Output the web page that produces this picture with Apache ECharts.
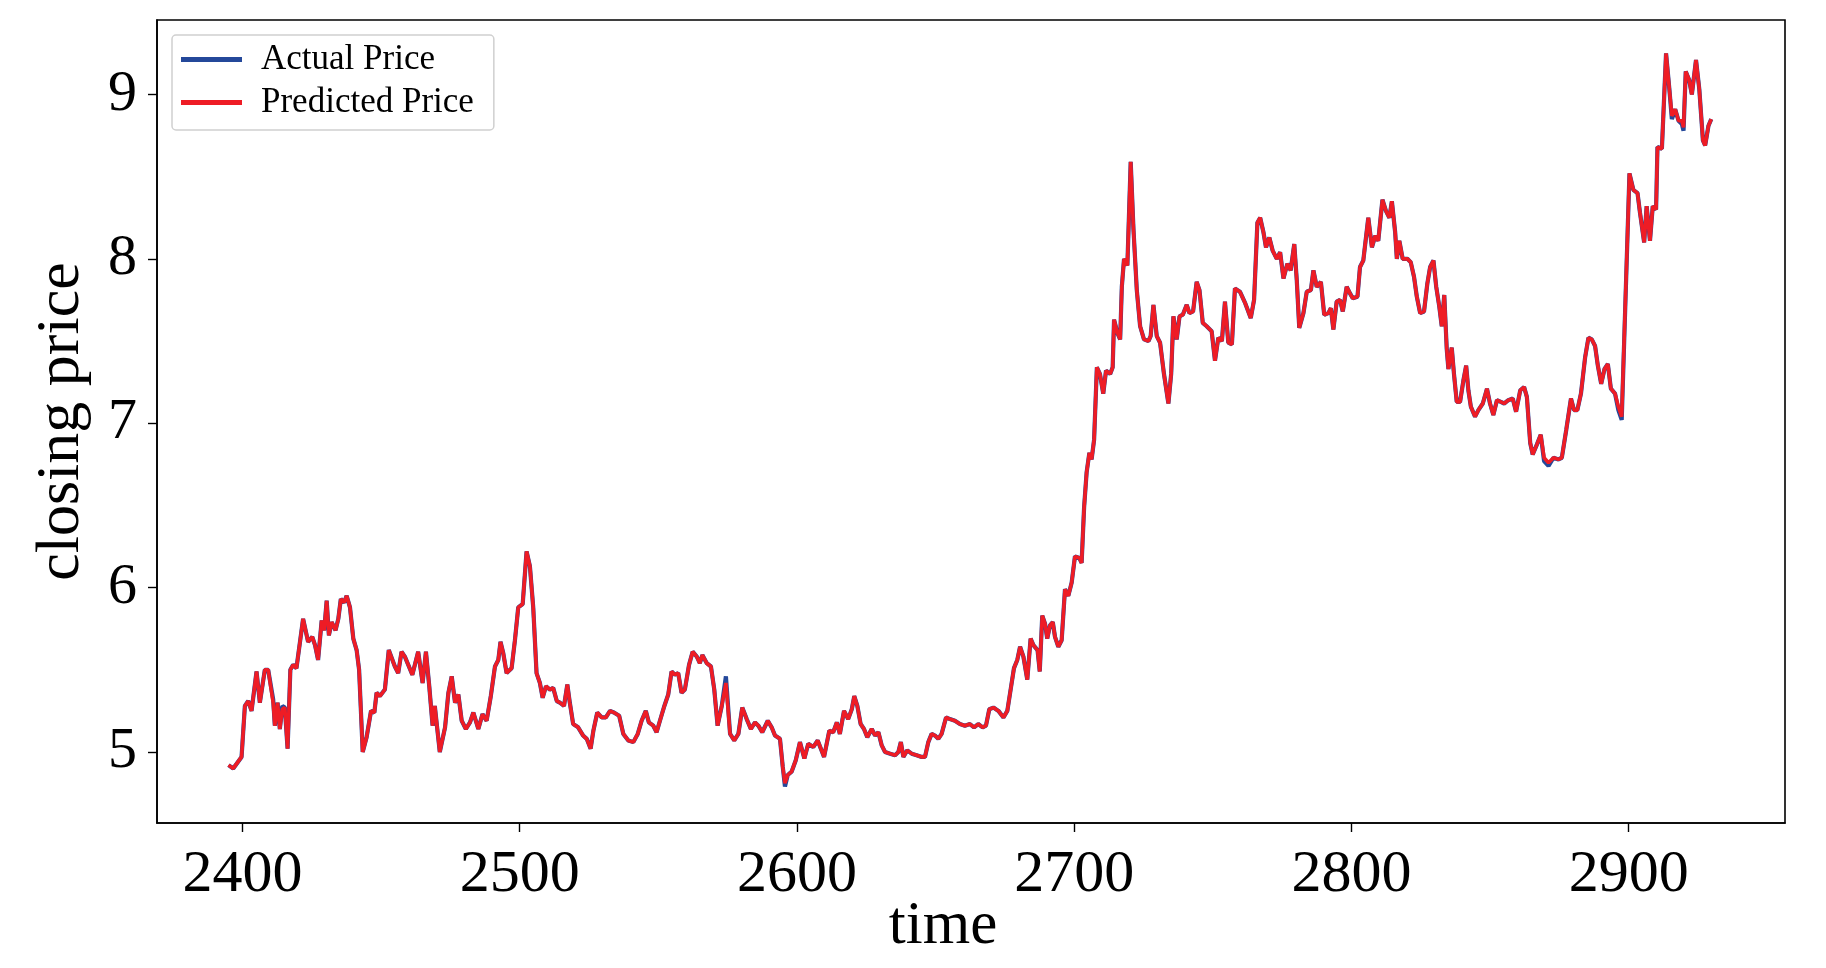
<!DOCTYPE html>
<html><head><meta charset="utf-8">
<script src="https://cdn.jsdelivr.net/npm/echarts@6/dist/echarts.min.js"></script>
<style>html,body{margin:0;padding:0;background:#fff}#c{width:1826px;height:968px}</style>
</head><body><div id="c"></div>
<script>
const time = [
2395.0,2396.7,2399.7,2400.9,2402.1,2403.3,2405.1,2406.3,2408.1,2409.3,
2411.1,2411.7,2412.7,2413.5,2414.4,2415.3,2416.3,2417.3,2418.3,2419.5,
2421.9,2422.5,2423.7,2425.2,2426.2,2427.3,2428.6,2429.5,2430.4,2431.2,
2432.2,2433.6,2434.6,2435.5,2436.7,2437.6,2438.8,2440.0,2441.2,2442.1,
2443.4,2444.8,2446.4,2447.6,2448.4,2449.6,2451.4,2452.8,2455.0,2456.2,
2457.4,2458.6,2461.3,2463.4,2465.0,2466.2,2467.4,2468.6,2469.4,2471.2,
2473.1,2474.3,2475.5,2476.7,2477.9,2479.1,2480.6,2482.1,2483.3,2485.1,
2486.6,2488.1,2489.6,2491.1,2492.3,2493.1,2494.1,2495.3,2497.1,2498.3,
2499.5,2501.1,2502.5,2503.7,2504.9,2506.1,2507.3,2508.3,2509.5,2510.9,
2512.1,2513.4,2514.5,2516.0,2517.2,2518.1,2519.3,2521.1,2522.9,2524.2,
2525.6,2526.6,2528.0,2529.6,2531.1,2532.6,2534.0,2535.9,2537.4,2539.2,
2541.0,2542.6,2544.0,2545.5,2546.6,2548.2,2549.4,2550.6,2552.2,2553.6,
2554.8,2556.0,2557.2,2558.4,2559.6,2561.1,2562.4,2563.9,2565.0,2565.9,
2567.5,2569.0,2570.2,2571.4,2572.9,2574.4,2575.9,2577.4,2578.9,2580.3,
2581.9,2583.4,2584.9,2586.1,2587.5,2589.5,2590.9,2592.1,2593.9,2594.9,
2595.7,2596.7,2598.1,2599.6,2601.1,2602.7,2604.1,2605.9,2607.5,2609.8,
2611.7,2613.1,2614.4,2615.5,2617.0,2618.5,2619.8,2620.7,2621.8,2623.0,
2624.2,2625.4,2627.0,2628.2,2629.4,2630.6,2631.8,2633.6,2635.4,2636.6,
2637.5,2638.4,2639.8,2641.4,2643.2,2645.0,2646.2,2647.4,2648.6,2649.8,
2651.0,2652.2,2653.8,2655.2,2657.0,2658.8,2660.6,2662.4,2663.9,2665.4,
2667.0,2668.2,2669.4,2670.9,2672.7,2674.5,2675.9,2677.1,2678.3,2679.5,
2680.5,2681.7,2683.1,2684.3,2685.3,2686.8,2687.6,2688.5,2689.5,2690.3,
2691.3,2692.3,2693.1,2694.3,2695.5,2696.7,2697.9,2699.1,2700.3,2701.9,
2702.7,2703.6,2704.5,2705.5,2706.3,2707.2,2708.2,2709.3,2710.5,2711.5,
2713.0,2713.9,2714.4,2715.6,2716.6,2717.2,2718.0,2719.2,2720.4,2721.4,
2722.6,2723.8,2725.2,2726.8,2727.6,2728.6,2729.8,2731.0,2732.4,2734.0,
2735.0,2735.8,2737.0,2738.0,2739.2,2740.6,2741.6,2742.9,2744.2,2745.2,
2746.4,2747.8,2749.6,2750.8,2752.0,2753.3,2754.4,2755.6,2756.9,2758.0,
2759.8,2761.7,2763.7,2764.9,2766.1,2767.1,2768.3,2769.2,2770.4,2771.6,
2773.1,2774.3,2775.5,2776.9,2778.1,2779.4,2780.3,2781.2,2782.7,2783.9,
2785.4,2786.3,2787.5,2789.0,2790.2,2791.7,2792.6,2793.5,2794.7,2795.9,
2796.9,2798.3,2799.5,2800.5,2802.2,2803.1,2804.3,2806.1,2807.4,2808.6,
2809.7,2811.2,2812.5,2813.7,2814.6,2815.8,2816.4,2817.3,2818.5,2820.2,
2821.4,2822.6,2823.6,2824.8,2826.2,2827.4,2828.4,2829.6,2830.6,2831.7,
2832.6,2833.5,2834.4,2835.0,2836.2,2837.0,2838.0,2839.2,2840.4,2841.4,
2842.2,2843.1,2844.6,2845.8,2847.4,2848.9,2850.0,2851.2,2852.5,2853.9,
2855.1,2856.6,2858.2,2859.4,2860.9,2862.3,2863.3,2864.5,2865.4,2866.9,
2868.3,2869.5,2871.1,2872.9,2874.7,2875.9,2877.5,2879.2,2880.3,2881.5,
2882.8,2884.3,2885.5,2886.7,2887.9,2888.9,2890.1,2891.3,2892.5,2893.6,
2895.1,2896.3,2897.5,2900.3,2901.7,2903.2,2904.1,2905.6,2906.5,2907.7,
2908.7,2909.9,2910.4,2912.0,2913.5,2914.7,2915.6,2916.8,2918.0,2919.2,
2919.8,2920.6,2921.8,2922.8,2924.3,2925.5,2926.8,2927.6,2928.8,2929.8
];
const actual = [
4.92,4.90,4.97,5.28,5.31,5.25,5.49,5.30,5.50,5.50,
5.32,5.16,5.30,5.14,5.28,5.27,5.02,5.50,5.53,5.51,
5.81,5.82,5.67,5.70,5.65,5.56,5.80,5.74,5.92,5.71,
5.79,5.74,5.81,5.93,5.91,5.95,5.88,5.69,5.62,5.50,
5.00,5.09,5.25,5.24,5.36,5.34,5.38,5.62,5.52,5.48,
5.61,5.58,5.47,5.61,5.42,5.61,5.40,5.16,5.28,5.00,
5.15,5.36,5.46,5.30,5.35,5.19,5.14,5.18,5.24,5.14,
5.23,5.19,5.34,5.52,5.56,5.67,5.60,5.48,5.51,5.68,
5.88,5.90,6.22,6.13,5.88,5.48,5.42,5.33,5.40,5.38,
5.39,5.31,5.30,5.28,5.41,5.30,5.17,5.15,5.10,5.08,
5.02,5.13,5.24,5.21,5.21,5.25,5.24,5.22,5.11,5.07,
5.06,5.11,5.19,5.25,5.18,5.16,5.12,5.19,5.28,5.35,
5.49,5.47,5.48,5.36,5.38,5.53,5.61,5.58,5.54,5.59,
5.54,5.52,5.38,5.16,5.28,5.46,5.11,5.07,5.11,5.27,
5.20,5.14,5.18,5.16,5.12,5.19,5.15,5.10,5.08,4.91,
4.79,4.86,4.88,4.95,5.06,4.96,5.05,5.03,5.07,4.97,
5.13,5.12,5.18,5.11,5.25,5.20,5.26,5.34,5.28,5.17,
5.14,5.09,5.14,5.10,5.12,5.04,5.00,4.99,4.98,5.00,
5.06,4.97,5.01,4.99,4.98,4.97,4.97,5.06,5.11,5.10,
5.08,5.11,5.21,5.20,5.19,5.17,5.16,5.17,5.15,5.17,
5.15,5.16,5.26,5.27,5.25,5.21,5.25,5.38,5.51,5.56,
5.64,5.58,5.44,5.69,5.65,5.62,5.49,5.83,5.78,5.69,
5.77,5.79,5.70,5.64,5.68,5.99,5.95,6.03,6.19,6.18,
6.15,6.49,6.70,6.82,6.78,6.90,7.34,7.30,7.18,7.32,
7.30,7.34,7.63,7.55,7.51,7.83,8.00,7.96,8.59,8.18,
7.81,7.59,7.51,7.50,7.53,7.72,7.53,7.49,7.30,7.12,
7.30,7.65,7.51,7.65,7.66,7.72,7.67,7.68,7.86,7.81,
7.61,7.59,7.56,7.38,7.52,7.50,7.74,7.49,7.48,7.82,
7.80,7.73,7.64,7.75,8.22,8.25,8.16,8.07,8.13,8.05,
8.00,8.04,7.88,7.97,7.93,8.09,7.87,7.58,7.67,7.80,
7.81,7.93,7.83,7.86,7.66,7.67,7.70,7.57,7.74,7.75,
7.68,7.83,7.79,7.76,7.77,7.95,7.99,8.25,8.07,8.14,
8.11,8.36,8.29,8.25,8.35,8.16,8.00,8.11,8.00,8.00,
7.98,7.89,7.77,7.67,7.68,7.85,7.95,7.99,7.83,7.71,
7.59,7.78,7.45,7.33,7.46,7.30,7.13,7.13,7.26,7.35,
7.20,7.10,7.04,7.08,7.12,7.21,7.12,7.05,7.14,7.13,
7.12,7.14,7.15,7.07,7.20,7.22,7.16,6.88,6.81,6.87,
6.93,6.77,6.74,6.79,6.78,6.79,6.96,7.15,7.08,7.08,
7.18,7.40,7.52,7.51,7.47,7.35,7.24,7.33,7.36,7.21,
7.18,7.08,7.02,8.52,8.42,8.40,8.28,8.10,8.32,8.11,
8.32,8.30,8.68,8.67,9.25,9.03,8.85,8.91,8.84,8.82,
8.78,9.14,9.09,9.00,9.21,9.03,8.72,8.69,8.81,8.85
];
const predicted = [
4.92,4.90,4.97,5.28,5.31,5.25,5.49,5.30,5.50,5.50,
5.30,5.16,5.30,5.14,5.26,5.27,5.02,5.50,5.53,5.51,
5.81,5.82,5.67,5.70,5.65,5.56,5.80,5.74,5.92,5.71,
5.79,5.74,5.81,5.93,5.91,5.95,5.88,5.69,5.62,5.50,
5.00,5.09,5.25,5.24,5.36,5.34,5.38,5.62,5.52,5.48,
5.61,5.58,5.47,5.61,5.42,5.61,5.40,5.16,5.28,5.00,
5.15,5.36,5.46,5.30,5.35,5.19,5.14,5.18,5.24,5.14,
5.23,5.19,5.34,5.52,5.56,5.67,5.60,5.48,5.51,5.68,
5.88,5.90,6.22,6.13,5.88,5.48,5.42,5.33,5.40,5.38,
5.39,5.31,5.30,5.28,5.41,5.30,5.17,5.15,5.10,5.08,
5.02,5.13,5.24,5.21,5.21,5.25,5.24,5.22,5.11,5.07,
5.06,5.11,5.19,5.25,5.18,5.16,5.12,5.19,5.28,5.35,
5.49,5.47,5.48,5.36,5.38,5.53,5.61,5.58,5.54,5.59,
5.54,5.52,5.38,5.16,5.28,5.42,5.11,5.07,5.11,5.27,
5.20,5.14,5.18,5.16,5.12,5.19,5.15,5.10,5.08,4.91,
4.81,4.86,4.88,4.95,5.06,4.96,5.05,5.03,5.07,4.97,
5.13,5.12,5.18,5.11,5.25,5.20,5.26,5.34,5.28,5.17,
5.14,5.09,5.14,5.10,5.12,5.04,5.00,4.99,4.98,5.00,
5.06,4.97,5.01,4.99,4.98,4.97,4.97,5.06,5.11,5.10,
5.08,5.11,5.21,5.20,5.19,5.17,5.16,5.17,5.15,5.17,
5.15,5.16,5.26,5.27,5.25,5.21,5.25,5.38,5.51,5.56,
5.64,5.58,5.44,5.69,5.65,5.62,5.49,5.83,5.78,5.69,
5.77,5.79,5.70,5.64,5.68,5.99,5.95,6.03,6.19,6.18,
6.15,6.49,6.70,6.82,6.78,6.90,7.34,7.30,7.18,7.32,
7.30,7.34,7.63,7.55,7.51,7.83,8.00,7.96,8.59,8.18,
7.81,7.59,7.51,7.50,7.53,7.72,7.53,7.49,7.30,7.12,
7.30,7.65,7.51,7.65,7.66,7.72,7.67,7.68,7.86,7.81,
7.61,7.59,7.56,7.38,7.52,7.50,7.74,7.49,7.48,7.82,
7.80,7.73,7.64,7.75,8.22,8.25,8.16,8.07,8.13,8.05,
8.00,8.04,7.88,7.97,7.93,8.09,7.87,7.58,7.67,7.80,
7.81,7.93,7.83,7.86,7.66,7.67,7.70,7.57,7.74,7.75,
7.68,7.83,7.79,7.76,7.77,7.95,7.99,8.25,8.07,8.14,
8.11,8.36,8.29,8.25,8.35,8.16,8.00,8.11,8.00,8.00,
7.98,7.89,7.77,7.67,7.68,7.85,7.95,7.99,7.83,7.71,
7.59,7.78,7.45,7.33,7.46,7.30,7.13,7.13,7.26,7.35,
7.20,7.10,7.04,7.08,7.12,7.21,7.12,7.05,7.14,7.13,
7.12,7.14,7.15,7.07,7.20,7.22,7.16,6.88,6.81,6.87,
6.93,6.79,6.76,6.79,6.78,6.79,6.96,7.15,7.08,7.08,
7.18,7.40,7.52,7.51,7.47,7.35,7.24,7.33,7.36,7.21,
7.18,7.10,7.04,8.52,8.42,8.40,8.28,8.10,8.32,8.11,
8.32,8.30,8.68,8.67,9.25,9.03,8.87,8.91,8.84,8.84,
8.80,9.14,9.09,9.00,9.21,9.03,8.72,8.69,8.81,8.85
];
const seriesNames = ['Actual Price', 'Predicted Price'];
const xTicks = [2400, 2500, 2600, 2700, 2800, 2900];
const yTicks = [5, 6, 7, 8, 9];
const xTitle = 'time';
const yTitle = 'closing price';

const FONT = 'Liberation Serif';
const BLUE = '#24489a';
const RED = '#ee1c25';
const chart = echarts.init(document.getElementById('c'), null, {renderer: 'canvas'});
chart.setOption({
  animation: false,
  backgroundColor: '#ffffff',
  grid: {left: 157, right: 41, top: 20, bottom: 145, show: true, containLabel: false,
         outerBoundsMode: 'none',
         borderColor: '#000', borderWidth: 1.6, backgroundColor: 'transparent'},
  legend: {
    orient: 'vertical', left: 172, top: 35,
    icon: 'rect', itemWidth: 61, itemHeight: 5, itemGap: 8,
    padding: [7, 20, 10, 9],
    backgroundColor: '#fff', borderColor: '#d0d0d0', borderWidth: 1.5, borderRadius: 4,
    textStyle: {fontFamily: FONT, fontSize: 35, color: '#000', padding: [0, 0, 0, 14]},
    data: seriesNames
  },
  xAxis: {
    type: 'value', min: 2369.2, max: 2956.4,
    name: xTitle, nameLocation: 'middle', nameGap: 73, nameMoveOverlap: false,
    nameTextStyle: {fontFamily: FONT, fontSize: 61, color: '#000', padding: [0, 56, 0, 0]},
    axisLine: {show: true, onZero: false, lineStyle: {color: '#000', width: 1.6}},
    axisTick: {show: true, length: 9, lineStyle: {color: '#000', width: 1.4}, customValues: xTicks},
    axisLabel: {customValues: xTicks, formatter: v => String(v), fontFamily: FONT, fontSize: 60, color: '#000', margin: 22},
    splitLine: {show: false}
  },
  yAxis: {
    type: 'value', min: 4.568, max: 9.453,
    name: yTitle, nameLocation: 'middle', nameGap: 64, nameMoveOverlap: false,
    nameTextStyle: {fontFamily: FONT, fontSize: 62, color: '#000'},
    axisLine: {show: true, onZero: false, lineStyle: {color: '#000', width: 1.6}},
    axisTick: {show: true, length: 9, lineStyle: {color: '#000', width: 1.4}, customValues: yTicks},
    axisLabel: {customValues: yTicks, formatter: v => String(v), fontFamily: FONT, fontSize: 58, color: '#000', margin: 20},
    splitLine: {show: false}
  },
  series: [
    {type: 'line', name: seriesNames[0], data: time.map((t, i) => [t, actual[i]]),
     symbol: 'none', showSymbol: false, lineStyle: {color: BLUE, width: 4.2}, itemStyle: {color: BLUE}, z: 2},
    {type: 'line', name: seriesNames[1], data: time.map((t, i) => [t, predicted[i]]),
     symbol: 'none', showSymbol: false, lineStyle: {color: RED, width: 3.6}, itemStyle: {color: RED}, z: 3}
  ]
});
</script></body></html>
